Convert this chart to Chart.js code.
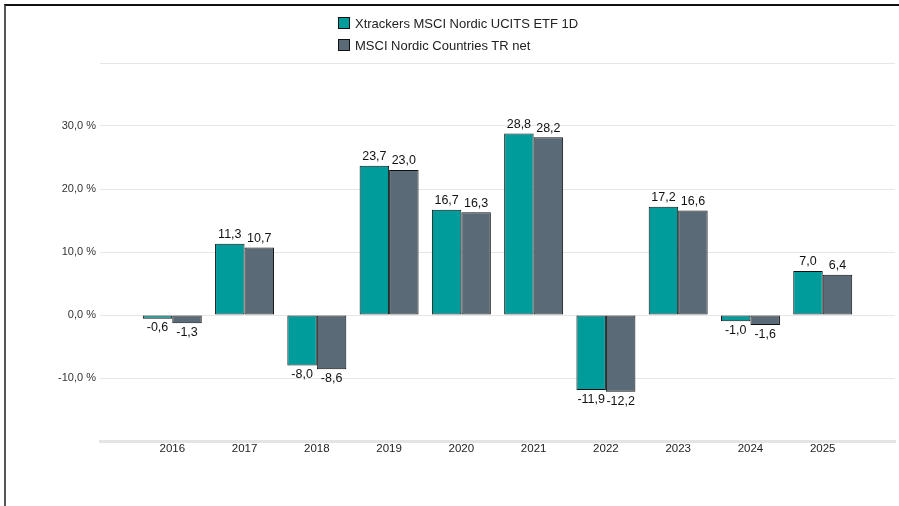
<!DOCTYPE html>
<html>
<head>
<meta charset="utf-8">
<script src="https://cdn.jsdelivr.net/npm/chart.js@4.4.1/dist/chart.umd.min.js"></script>
<style>
  body { margin: 0; background: #fff; font-family: "Liberation Sans", Arial, sans-serif; }
  #wrap { position: relative; width: 899px; height: 506px; overflow: hidden; }
  #frame { position: absolute; left: 4px; top: 4px; right: 0; bottom: -4px;
           border-top: 2px solid #111; border-left: 2px solid #555; pointer-events: none; }
  #legend { position: absolute; left: 338px; top: 12px; font-size: 13px; color: #222; }
  .item { display: flex; align-items: center; height: 22px; }
  .box { width: 10px; height: 10px; border: 1px solid #111; margin-right: 5px; }
</style>
</head>
<body>
<div id="wrap">
  <canvas id="myChart" width="899" height="506"></canvas>
  <div id="legend"></div>
  <div id="frame"></div>
</div>
<script>
var years = ["2016", "2017", "2018", "2019", "2020", "2021", "2022", "2023", "2024", "2025"];
var etfValues = [-0.6, 11.3, -8.0, 23.7, 16.7, 28.8, -11.9, 17.2, -1.0, 7.0];
var indexValues = [-1.3, 10.7, -8.6, 23.0, 16.3, 28.2, -12.2, 16.6, -1.6, 6.4];
var seriesNames = ["Xtrackers MSCI Nordic UCITS ETF 1D", "MSCI Nordic Countries TR net"];
var barColors = ["#009b9b", "#5a6a76"];

// empty slot on each side so the years sit one step in from the axis ends
var labels = [""].concat(years, [""]);
function pad(arr) { return [null].concat(arr, [null]); }

function fmt(v) { return v.toFixed(1).replace(".", ","); }

// legend
var lg = document.getElementById("legend");
seriesNames.forEach(function (name, i) {
  var row = document.createElement("div");
  row.className = "item";
  var b = document.createElement("span");
  b.className = "box";
  b.style.background = barColors[i];
  var t = document.createElement("span");
  t.textContent = name;
  row.append(b, t);
  lg.append(row);
});

const valueLabels = {
  id: "valueLabels",
  afterDatasetsDraw(chart) {
    const ctx = chart.ctx;
    ctx.save();
    ctx.font = "12.5px 'Liberation Sans', Arial, sans-serif";
    ctx.fillStyle = "#111";
    ctx.textAlign = "center";
    chart.data.datasets.forEach(function (ds, di) {
      const meta = chart.getDatasetMeta(di);
      meta.data.forEach(function (bar, i) {
        const v = ds.data[i];
        if (v === null || v === undefined) return;
        if (v >= 0) {
          ctx.textBaseline = "bottom";
          ctx.fillText(fmt(v), bar.x, bar.y - 3);
        } else {
          ctx.textBaseline = "top";
          ctx.fillText(fmt(v), bar.x, bar.y + 3);
        }
      });
    });
    ctx.restore();
  }
};

new Chart("myChart", {
  type: "bar",
  data: {
    labels: labels,
    datasets: [{
      label: seriesNames[0],
      data: pad(etfValues),
      backgroundColor: barColors[0],
      borderColor: "#111",
      borderWidth: 1,
      borderSkipped: false
    }, {
      label: seriesNames[1],
      data: pad(indexValues),
      backgroundColor: barColors[1],
      borderColor: "#111",
      borderWidth: 1,
      borderSkipped: false
    }]
  },
  options: {
    responsive: false,
    animation: false,
    categoryPercentage: 0.816,
    barPercentage: 1.0,
    layout: { padding: { top: 63, right: 4, left: 0, bottom: 0 } },
    plugins: { legend: { display: false }, tooltip: { enabled: false } },
    scales: {
      x: {
        offset: false,
        afterFit: function (s) { s.height = 65; },
        grid: { display: false, drawTicks: false },
        border: { color: "#e4e4e4", width: 3 },
        ticks: { color: "#222", padding: 1, font: { size: 11.5, family: "'Liberation Sans', Arial, sans-serif" }, maxRotation: 0, autoSkip: false }
      },
      y: {
        min: -20,
        max: 40,
        afterFit: function (s) { s.width = 100; },
        border: { display: false },
        grid: { color: "#e6e6e6", drawTicks: false },
        ticks: {
          stepSize: 10,
          padding: 4,
          color: "#333",
          font: { size: 11, family: "'Liberation Sans', Arial, sans-serif" },
          callback: function (v) { return (v === 40 || v === -20) ? "" : fmt(v) + " %"; }
        }
      }
    }
  },
  plugins: [valueLabels]
});
</script>
</body>
</html>
